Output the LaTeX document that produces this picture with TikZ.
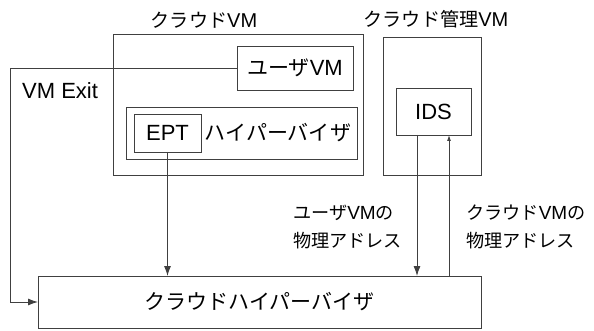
\documentclass[tikz,border=0pt]{standalone}
\usepackage{fontspec}
\setmainfont{Liberation Sans}
\newfontfamily\jp[Scale=0.955]{Noto Sans CJK JP}
\usetikzlibrary{arrows.meta}
\tikzset{
  box/.style={draw=black!75, line width=0.9pt, inner sep=0pt, outer sep=0pt, anchor=north west},
  txt/.style={inner sep=0pt, font=\fontsize{22}{28}\selectfont},
  ttl/.style={inner sep=0pt, font=\fontsize{20}{24}\selectfont},
  lab/.style={inner sep=0pt, anchor=north west, align=left, font=\fontsize{19}{28}\selectfont},
  conn/.style={draw=black!75, line width=0.9pt},
  arr/.style={conn, -{Latex[length=10pt,width=7pt]}},
  arrs/.style={conn, -{Latex[length=6pt,width=4pt]}}
}
\begin{document}
\begin{tikzpicture}[x=1pt,y=-1pt]
\useasboundingbox (0,0) rectangle (594,331);
% boxes
\node[box, minimum width=250pt, minimum height=141pt] (cvm) at (113,34) {};
\node[box, minimum width=116pt, minimum height=44pt] (uvm) at (237,46) {};
\node[box, minimum width=231pt, minimum height=52pt] (hv) at (126,107) {};
\node[box, minimum width=67pt, minimum height=38pt] (ept) at (134,114) {};
\node[box, minimum width=98pt, minimum height=138pt] (mvm) at (383,37) {};
\node[box, minimum width=75pt, minimum height=47pt] (ids) at (396,88) {};
\node[box, minimum width=443pt, minimum height=52pt] (chv) at (38,276) {};
% texts
\node[txt] (uvmt) at (uvm.center) {{\jp ユーザ}VM};
\node[txt] (eptt) at (ept.center) {EPT};
\node[txt] (hvt) at (278,133) {\jp ハイパーバイザ};
\node[txt] (idst) at (ids.center) {IDS};
\node[txt] (chvt) at (chv.center) {\jp クラウドハイパーバイザ};
\node[ttl] (cvmt) at (204,20) {{\jp クラウド}VM};
\node[ttl] (mvmt) at (436,19) {{\jp クラウド管理}VM};
\node[txt, anchor=west] (exitt) at (22,91) {VM Exit};
\node[lab] (lab1) at (293,205) {{\jp ユーザ}VM{\jp の}\\{\jp 物理アドレス}};
\node[lab] (lab2) at (466,205) {{\jp クラウド}VM{\jp の}\\{\jp 物理アドレス}};
% connectors
\coordinate (exitc) at (10,68);
\draw[arr] (uvm.west) -- (exitc) |- (chv.west);
\draw[arr] (ept.south) -- (ept.south |- chv.north);
\draw[arr] ([xshift=-16.5pt]ids.south) -- ([xshift=-16.5pt]ids.south |- chv.north);
\draw[arrs] ([xshift=15.5pt]ids.south |- chv.north) -- ([xshift=15.5pt]ids.south);
\end{tikzpicture}
\end{document}
